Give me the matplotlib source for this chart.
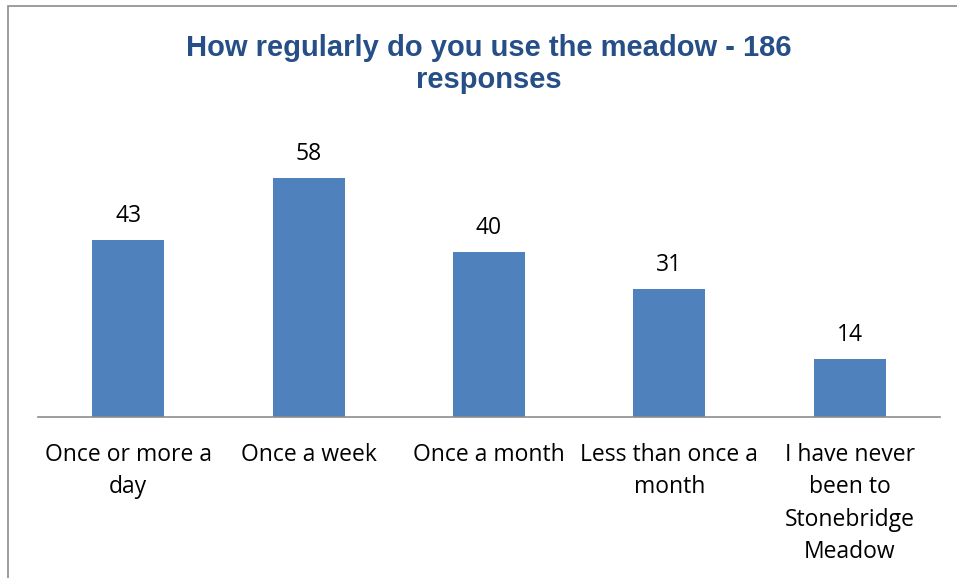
import matplotlib.pyplot as plt
from matplotlib.patches import Rectangle

categories = ['Once or more a\nday', 'Once a week', 'Once a month',
              'Less than once a\nmonth', 'I have never\nbeen to\nStonebridge\nMeadow']
counts = [43, 58, 40, 31, 14]

W, H = 957, 578
fig = plt.figure(figsize=(W / 100, H / 100), dpi=100)

# chart area border (runs off the right/bottom edge)
fig.patches.append(Rectangle((8 / W, -0.1), 1.2, 1 - 6 / H + 0.1, transform=fig.transFigure,
                             fill=False, edgecolor='#8c8c8c', linewidth=1.2))

# axes: x 38..940, baseline y=417, 4.116 px per unit
top = 417 - 70 * 4.116
ax = fig.add_axes([38 / W, 1 - 417 / H, (940 - 38) / W, (417 - top) / H])
ax.set_xlim(-0.5, len(counts) - 0.5)
ax.set_ylim(0, 70)

bars = ax.bar(range(len(counts)), counts, width=0.4, color='#4f81bd')
for b, v in zip(bars, counts):
    ax.text(b.get_x() + b.get_width() / 2, v + 3.0, str(v), ha='center', va='bottom',
            fontsize=16.5, family='Open Sans', color='black')

ax.set_xticks(range(len(counts)))
ax.set_xticklabels(categories, fontsize=16.5, family='Open Sans', linespacing=1.45)
ax.tick_params(axis='x', length=0, pad=19)
ax.set_yticks([])
for s in ['top', 'right', 'left']:
    ax.spines[s].set_visible(False)
ax.spines['bottom'].set_color('#8c8c8c')
ax.spines['bottom'].set_linewidth(1.2)

fig.text(489 / W, 1 - 64 / H, 'How regularly do you use the meadow - 186\nresponses',
         ha='center', va='center', fontsize=21, fontweight='bold',
         family='Liberation Sans', color='#254f86', linespacing=1.2)

fig.savefig('out.png', dpi=100)
